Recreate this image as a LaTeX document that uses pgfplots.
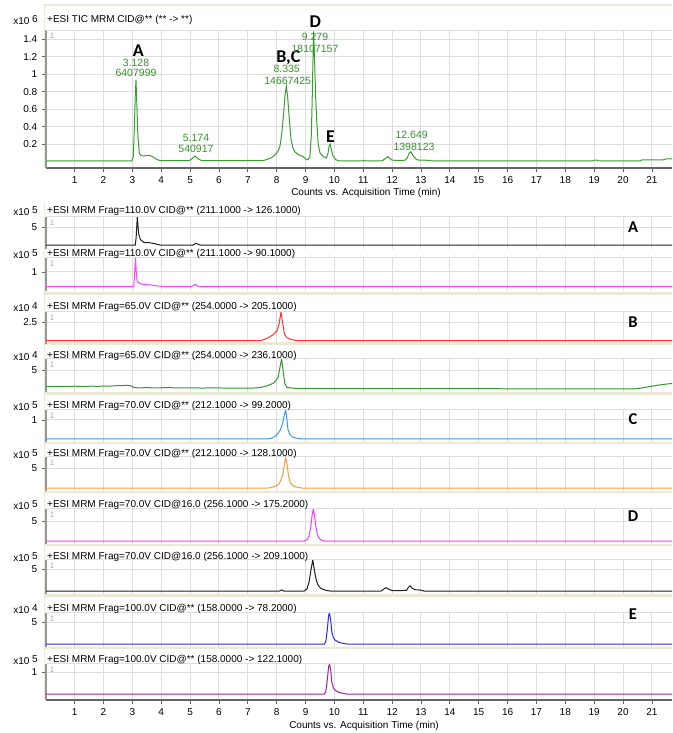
\documentclass[border=0pt]{standalone}
\usepackage{pgfplots}
\pgfplotsset{compat=1.18}
\usepackage{fontspec}
\setmainfont{Liberation Sans}
\newfontfamily\lettfont{Carlito}
\definecolor{ticgreen}{RGB}{56,158,46}
\definecolor{labgreen}{RGB}{50,150,40}
\definecolor{gridgray}{RGB}{222,222,222}
\definecolor{axisgray}{RGB}{150,150,150}
\definecolor{darkaxis}{RGB}{100,100,100}
\definecolor{beige}{RGB}{236,232,214}
\definecolor{cblack}{RGB}{30,30,30}
\definecolor{cpink}{RGB}{255,64,255}
\definecolor{cred}{RGB}{255,50,50}
\definecolor{cgreen}{RGB}{50,150,50}
\definecolor{cblue}{RGB}{51,153,255}
\definecolor{corange}{RGB}{255,153,51}
\definecolor{cmag}{RGB}{255,51,255}
\definecolor{cblue2}{RGB}{40,40,235}
\definecolor{cpurple}{RGB}{160,32,160}
\pgfplotsset{
  base/.style={
    anchor=south west, x=28.86pt, xmin=0, xmax=21.70,
    axis lines=left, axis line style={-},
    y axis line style={draw=axisgray, line width=2pt},
    xtick={1,...,21},
    tick align=outside, major tick length=4pt,
    ytick style={draw=darkaxis, line width=0.7pt},
    grid=major, major grid style={draw=gridgray, line width=1pt},
    ticklabel style={font=\fontsize{10}{12}\selectfont},
    yticklabel style={xshift=-1pt},
    clip mode=individual,
    every axis plot/.append style={line width=1pt},
  },
  mrm/.style={base,
    x axis line style={draw=none},
    xticklabels={}, xtick style={draw=none},
  },
  withx/.style={
    x axis line style={draw=darkaxis, line width=2pt},
    xtick style={draw=darkaxis, line width=0.7pt},
    xticklabels={1,2,3,4,5,6,7,8,9,10,11,12,13,14,15,16,17,18,19,20,21},
    xticklabel style={yshift=-1pt},
  },
}
\newcommand\one{\node[anchor=north west, text=gray!70, font=\fontsize{8}{9}\selectfont, inner sep=0pt] at (rel axis cs:0,1) [xshift=4pt,yshift=-3pt] {1};
\draw[gridgray, line width=1pt] (rel axis cs:0,1) -- (rel axis cs:1,1);}
\newcommand\ttl[3]{%
\node[anchor=west, inner sep=0pt, font=\fontsize{10}{12}\selectfont] at (47pt,-#1pt) {#2};
\node[anchor=east, inner sep=0pt, font=\fontsize{10}{12}\selectfont] at (38pt,-#1pt) {x10 \raisebox{2.5pt}{#3}};}
\newcommand\letr[2]{\node[font=\lettfont\bfseries\fontsize{16.5}{18}\selectfont, inner sep=0pt] at (633pt,-#1pt) {#2};}
\begin{document}
\begin{tikzpicture}
\path[use as bounding box] (0,0) rectangle (672pt,-733pt);
% frames
\draw[beige, line width=1.5pt] (44pt,-5pt) -- (672pt,-5pt);
\draw[beige, line width=1.5pt] (44.5pt,-5pt) -- (44.5pt,-168pt);
\draw[beige, line width=1.5pt] (44.5pt,-203pt) -- (44.5pt,-700pt);
\foreach \yy in {293.5,343.5,393.5,443,492,545,595.5,648}{
  \draw[beige, line width=2.5pt] (44pt,-\yy pt) -- (672pt,-\yy pt);}
% ---------- TIC ----------
\begin{axis}[base, withx, at={(45.8pt,-168pt)}, y=87.25pt,
  ymin=-0.0745, ymax=1.507,
  ytick={0.2,0.4,0.6,0.8,1,1.2,1.4},
  yticklabels={0.2,0.4,0.6,0.8,1,1.2,1.4}]
\addplot[ticgreen] coordinates {(0,0.008)(2.98,0.008)(3.03,0.05)(3.07,0.4)(3.1,0.75)(3.125,0.934)(3.15,0.7)(3.19,0.3)(3.24,0.094)(3.3,0.07)(3.38,0.063)(3.5,0.068)(3.59,0.071)(3.68,0.058)(3.78,0.037)(3.88,0.02)(3.96,0.01)(4.97,0.01)(5.08,0.035)(5.17,0.063)(5.28,0.03)(5.4,0.01)(7.5,0.01)(7.6,0.017)(7.8,0.04)(7.94,0.074)(8.05,0.12)(8.11,0.17)(8.17,0.3)(8.23,0.51)(8.29,0.76)(8.335,0.865)(8.38,0.74)(8.44,0.476)(8.5,0.246)(8.56,0.16)(8.63,0.11)(8.75,0.08)(8.92,0.055)(9.02,0.025)(9.08,0.02)(9.15,0.055)(9.2,0.3)(9.23,0.7)(9.26,1.2)(9.279,1.49)(9.31,1.2)(9.35,0.75)(9.39,0.45)(9.44,0.2)(9.5,0.1)(9.62,0.055)(9.72,0.04)(9.77,0.08)(9.82,0.18)(9.85,0.2)(9.89,0.14)(9.96,0.055)(10.05,0.02)(10.15,0.008)(11.0,0.008)(11.03,0.015)(11.07,0.008)(11.65,0.008)(11.75,0.03)(11.85,0.055)(11.92,0.035)(12.0,0.015)(12.3,0.012)(12.45,0.015)(12.52,0.04)(12.6,0.1)(12.649,0.112)(12.72,0.07)(12.82,0.03)(12.92,0.015)(13.3,0.014)(13.35,0.006)(18.95,0.006)(19.0,0.015)(19.1,0.015)(19.15,0.006)(20.6,0.006)(20.65,0.018)(21.4,0.02)(21.5,0.03)(21.7,0.03)};
\one
\end{axis}
\ttl{20}{+ESI TIC MRM CID@** (** -> **)}{6}
\node[font=\fontsize{10}{12}\selectfont] at (366pt,-193pt) {Counts vs. Acquisition Time (min)};
% annotations
\begin{scope}[every node/.style={inner sep=0pt}]
\node[font=\lettfont\bfseries\fontsize{18}{20}\selectfont] at (138.3pt,-50.7pt) {A};
\node[font=\lettfont\bfseries\fontsize{18}{20}\selectfont] at (288.3pt,-58.3pt) {B,C};
\node[font=\lettfont\bfseries\fontsize{18}{20}\selectfont] at (315.3pt,-21.7pt) {D};
\node[font=\lettfont\bfseries\fontsize{18}{20}\selectfont] at (330.5pt,-136.7pt) {E};
\begin{scope}[every node/.style={inner sep=0pt, text=labgreen, font=\fontsize{10.5}{12}\selectfont}]
\node at (136pt,-62.7pt) {3.128};
\node at (136pt,-73.3pt) {6407999};
\node at (196pt,-138.3pt) {5.174};
\node at (196pt,-149.3pt) {540917};
\node at (286.7pt,-69.3pt) {8.335};
\node at (287.7pt,-80.7pt) {14667425};
\node at (315pt,-36.7pt) {9.279};
\node at (315pt,-49.3pt) {18107157};
\node at (411.7pt,-135pt) {12.649};
\node at (414pt,-146.7pt) {1398123};
\end{scope}
\end{scope}
% ---------- Panel 1 ----------
\begin{axis}[mrm, at={(45.8pt,-249pt)}, y=3.6pt, ymin=-1.11, ymax=7.85, ytick={5}, yticklabels={5}]
\addplot[cblack] coordinates {(0,0)(3.1,0)(3.13,2)(3.17,7.8)(3.22,3)(3.28,1.5)(3.4,0.7)(3.6,0.64)(3.75,0.4)(3.96,0)(5.1,0)(5.2,0.45)(5.35,0)(21.7,0)};
\one
\end{axis}
\ttl{211}{+ESI MRM Frag=110.0V CID@** (211.1000 -> 126.1000)}{5}
\letr{227}{A}
% ---------- Panel 2 ----------
\begin{axis}[mrm, at={(45.8pt,-291pt)}, y=15pt, ymin=-0.267, ymax=1.95, ytick={1}, yticklabels={1}]
\addplot[cpink] coordinates {(0,0.02)(3.05,0.02)(3.08,1.0)(3.11,1.93)(3.14,0.8)(3.17,0.35)(3.3,0.2)(3.5,0.15)(3.67,0.13)(3.85,0.08)(4.07,0.03)(5.05,0.02)(5.17,0.18)(5.3,0.02)(21.7,0.02)};
\one
\end{axis}
\ttl{254}{+ESI MRM Frag=110.0V CID@** (211.1000 -> 90.1000)}{5}
% ---------- Panel 3 ----------
\begin{axis}[mrm, at={(45.8pt,-344pt)}, y=7.6pt, ymin=-0.39, ymax=3.85, ytick={2.5}, yticklabels={2.5}]
\addplot[cred] coordinates {(0,0.05)(7.45,0.05)(7.6,0.25)(7.77,0.57)(7.9,0.9)(8.0,1.3)(8.08,2.2)(8.15,3.8)(8.2,2.5)(8.27,0.9)(8.35,0.45)(8.46,0.26)(8.69,0.05)(21.7,0.05)};
\one
\end{axis}
\ttl{307}{+ESI MRM Frag=65.0V CID@** (254.0000 -> 205.1000)}{4}
\letr{322}{B}
% ---------- Panel 4 ----------
\begin{axis}[mrm, at={(45.8pt,-392pt)}, y=3.8pt, ymin=-0.79, ymax=7.95, ytick={5}, yticklabels={5}]
\addplot[cgreen] coordinates {(0,0.6)(0.2,0.7)(0.4,0.6)(0.6,0.7)(0.8,0.65)(1.0,0.75)(1.2,0.65)(1.4,0.7)(1.6,0.75)(1.8,0.7)(2.0,0.8)(2.2,0.75)(2.4,0.85)(2.6,0.9)(2.8,0.95)(2.95,0.85)(3.05,0.4)(3.2,0.3)(3.5,0.35)(3.8,0.3)(4.2,0.35)(4.6,0.3)(5.0,0.32)(5.4,0.25)(5.8,0.3)(6.2,0.25)(6.6,0.25)(7.0,0.2)(7.3,0.3)(7.5,0.5)(7.7,0.9)(7.9,1.6)(8.05,3)(8.12,6)(8.17,7.9)(8.22,5)(8.28,1.5)(8.35,0.4)(8.6,0.2)(9.0,0.15)(9.5,0.12)(10.5,0.1)(11.5,0.12)(12.5,0.08)(13.5,0.1)(15,0.07)(17,0.06)(19,0.05)(20.4,0.05)(20.6,0.2)(20.9,0.6)(21.2,1.0)(21.5,1.3)(21.7,1.45)};
\one
\end{axis}
\ttl{356}{+ESI MRM Frag=65.0V CID@** (254.0000 -> 236.1000)}{4}
% ---------- Panel 5 ----------
\begin{axis}[mrm, at={(45.8pt,-442pt)}, y=19pt, ymin=-0.16, ymax=1.55, ytick={1}, yticklabels={1}]
\addplot[cblue] coordinates {(0,0)(7.7,0)(7.85,0.05)(8.0,0.2)(8.12,0.45)(8.2,0.8)(8.27,1.3)(8.31,1.53)(8.35,1.1)(8.39,0.5)(8.45,0.25)(8.55,0.1)(8.7,0.04)(8.87,0)(21.7,0)};
\one
\end{axis}
\ttl{406}{+ESI MRM Frag=70.0V CID@** (212.1000 -> 99.2000)}{5}
\letr{419}{C}
% ---------- Panel 6 ----------
\begin{axis}[mrm, at={(45.8pt,-491pt)}, y=4pt, ymin=-0.75, ymax=7.8, ytick={5}, yticklabels={5}]
\addplot[corange] coordinates {(0,0)(7.7,0)(7.85,0.2)(8.0,0.6)(8.1,1.2)(8.2,3)(8.27,6)(8.31,7.75)(8.36,6)(8.41,3)(8.47,1.3)(8.58,0.5)(8.7,0.2)(8.87,0)(21.7,0)};
\one
\end{axis}
\ttl{454}{+ESI MRM Frag=70.0V CID@** (212.1000 -> 128.1000)}{5}
% ---------- Panel 7 ----------
\begin{axis}[mrm, at={(45.8pt,-544pt)}, y=4pt, ymin=-0.75, ymax=8.05, ytick={5}, yticklabels={5}]
\addplot[cmag] coordinates {(0,0)(8.95,0)(9.05,0.3)(9.12,1.2)(9.18,3.5)(9.23,6.5)(9.27,8.0)(9.31,6.5)(9.36,3.5)(9.41,1.6)(9.48,0.6)(9.56,0.2)(9.65,0)(21.7,0)};
\one
\end{axis}
\ttl{505}{+ESI MRM Frag=70.0V CID@16.0 (256.1000 -> 175.2000)}{5}
\letr{516}{D}
% ---------- Panel 8 ----------
\begin{axis}[mrm, at={(45.8pt,-594pt)}, y=4.4pt, ymin=-0.68, ymax=7.1, ytick={5}, yticklabels={5}]
\addplot[cblack] coordinates {(0,0)(8.1,0)(8.17,0.25)(8.24,0)(8.95,0)(9.05,0.5)(9.12,2)(9.18,4.5)(9.25,7.05)(9.3,5)(9.36,2.8)(9.42,1.5)(9.5,0.8)(9.56,0.5)(9.7,0.15)(9.85,0)(11.62,0)(11.72,0.5)(11.79,0.75)(11.88,0.4)(12.0,0.1)(12.3,0.1)(12.5,0.15)(12.56,0.8)(12.62,1.2)(12.7,0.6)(12.8,0.3)(13.0,0.2)(13.1,0)(21.7,0)};
\one
\end{axis}
\ttl{557}{+ESI MRM Frag=70.0V CID@16.0 (256.1000 -> 209.1000)}{5}
% ---------- Panel 9 ----------
\begin{axis}[mrm, at={(45.8pt,-647pt)}, y=4.4pt, ymin=-0.68, ymax=7.1, ytick={5}, yticklabels={5}]
\addplot[cblue2] coordinates {(0,0)(9.65,0)(9.7,0.5)(9.75,3)(9.8,6.5)(9.83,7.05)(9.87,5.5)(9.91,2.8)(9.96,1.5)(10.02,0.9)(10.15,0.4)(10.3,0.15)(10.45,0)(21.7,0)};
\one
\end{axis}
\ttl{609}{+ESI MRM Frag=100.0V CID@** (158.0000 -> 78.2000)}{4}
\letr{614}{E}
% ---------- Panel 10 ----------
\begin{axis}[mrm, withx, at={(45.8pt,-700pt)}, y=22pt, ymin=-0.27, ymax=1.37, ytick={1}, yticklabels={1}]
\addplot[cpurple] coordinates {(0,0)(9.65,0)(9.7,0.1)(9.75,0.6)(9.8,1.25)(9.83,1.36)(9.87,1.1)(9.91,0.55)(9.96,0.3)(10.02,0.18)(10.15,0.08)(10.3,0.03)(10.45,0)(21.7,0)};
\one
\end{axis}
\ttl{660}{+ESI MRM Frag=100.0V CID@** (158.0000 -> 122.1000)}{5}
\node[font=\fontsize{10}{12}\selectfont] at (364pt,-726pt) {Counts vs. Acquisition Time (min)};
\end{tikzpicture}
\end{document}
